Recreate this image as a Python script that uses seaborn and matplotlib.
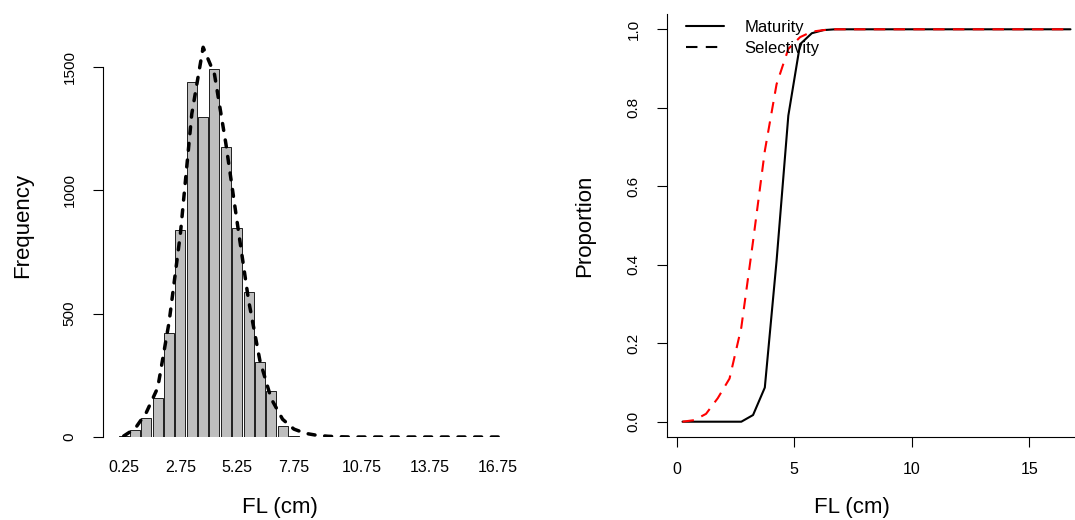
import matplotlib
matplotlib.use('Agg')
import matplotlib.pyplot as plt
import seaborn as sns
from matplotlib.lines import Line2D

# Bin centres of fork length (cm)
fl_mid = [0.25, 0.75, 1.25, 1.75, 2.25, 2.75, 3.25, 3.75, 4.25, 4.75, 5.25, 5.75,
          6.25, 6.75, 7.25, 7.75, 8.25, 8.75, 9.25, 9.75, 10.25, 10.75, 11.25, 11.75,
          12.25, 12.75, 13.25, 13.75, 14.25, 14.75, 15.25, 15.75, 16.25, 16.75]

# Length frequency (bars)
freq = [3, 27, 78, 159, 423, 840, 1439, 1298, 1492, 1176, 848, 589,
        303, 185, 46, 6, 1, 0, 0, 0, 0, 0, 0, 0,
        0, 0, 0, 0, 0, 0, 0, 0, 0, 0]

# Fitted frequency (dashed curve)
fitted = [4, 34, 100, 200, 466, 826, 1310, 1580, 1470, 1190, 870, 555,
          310, 155, 72, 32, 15, 7, 3, 1, 0, 0, 0, 0,
          0, 0, 0, 0, 0, 0, 0, 0, 0, 0]

# Maturity and selectivity at length
maturity = [0.0, 0.0, 0.0, 0.0, 0.0, 0.0, 0.017, 0.087, 0.41, 0.78, 0.962, 0.99,
            0.998, 1.0, 1.0, 1.0, 1.0, 1.0, 1.0, 1.0, 1.0, 1.0, 1.0, 1.0,
            1.0, 1.0, 1.0, 1.0, 1.0, 1.0, 1.0, 1.0, 1.0, 1.0]
selectivity = [0.0, 0.004, 0.02, 0.06, 0.11, 0.24, 0.46, 0.69, 0.86, 0.95, 0.98, 0.994,
               0.998, 1.0, 1.0, 1.0, 1.0, 1.0, 1.0, 1.0, 1.0, 1.0, 1.0, 1.0,
               1.0, 1.0, 1.0, 1.0, 1.0, 1.0, 1.0, 1.0, 1.0, 1.0]

hist_xlabels = ['0.25', '2.75', '5.25', '7.75', '10.75', '13.75', '16.75']
hist_yticks = [0, 500, 1000, 1500]
prop_xticks = [0, 5, 10, 15]
prop_yticks = [0.0, 0.2, 0.4, 0.6, 0.8, 1.0]

sns.set_style('ticks')
plt.rcParams['font.family'] = ['Liberation Sans', 'DejaVu Sans']
plt.rcParams.update({'text.color': 'black', 'axes.labelcolor': 'black',
                     'xtick.color': 'black', 'ytick.color': 'black',
                     'axes.edgecolor': 'black'})

W, H = 1075, 520
fig = plt.figure(figsize=(W / 100, H / 100), dpi=100)

# pixel helpers for axes placement
top_px, bot_px = 13.6, 437.4
ax1 = fig.add_axes([103 / W, 1 - bot_px / H, 412 / W, (bot_px - top_px) / H])
ax2 = fig.add_axes([667 / W, 1 - bot_px / H, 419 / W, (bot_px - top_px) / H])

# ---- Left: length frequency histogram
sns.barplot(x=fl_mid, y=freq, native_scale=True, width=0.88, color='#BEBEBE',
            saturation=1, edgecolor='black', linewidth=0.6, errorbar=None, ax=ax1)
sns.lineplot(x=fl_mid, y=fitted, ax=ax1, color='black', lw=2.5,
             linestyle=(0, (2.0, 2.8)), dash_capstyle='round')
ax1.set_xlim(-0.662, 17.49)
ax1.set_ylim(-1.6, 1716.5)
for s in ['top', 'right', 'bottom']:
    ax1.spines[s].set_visible(False)
ax1.spines['left'].set_bounds(0, 1500)
ax1.spines['left'].set_linewidth(0.8)
ax1.set_xticks([float(v) for v in hist_xlabels], labels=hist_xlabels)
ax1.set_yticks(hist_yticks, labels=[str(v) for v in hist_yticks], rotation=90, va='center')
ax1.tick_params(axis='x', length=0, pad=16.3, labelsize=11.5)
ax1.tick_params(axis='y', length=7.5, width=0.8, pad=11.5, labelsize=11)
ax1.set_xlabel('FL (cm)', fontsize=16)
ax1.set_ylabel('Frequency', fontsize=16)
ax1.xaxis.set_label_coords(0.4296, -0.1406)
ax1.yaxis.set_label_coords(-0.170, 0.5)

# ---- Right: maturity and selectivity
sns.lineplot(x=fl_mid, y=maturity, ax=ax2, color='black', lw=1.5)
sns.lineplot(x=fl_mid, y=selectivity, ax=ax2, color='red', lw=1.5,
             linestyle=(0, (5.5, 4)))
ax2.set_xlim(-0.41, 17.41)
ax2.set_ylim(-0.04, 1.04)
for s in ['top', 'right']:
    ax2.spines[s].set_visible(False)
for s in ['left', 'bottom']:
    ax2.spines[s].set_linewidth(0.8)
ax2.set_xticks(prop_xticks, labels=[str(v) for v in prop_xticks])
ax2.set_yticks(prop_yticks, labels=[f'{v:.1f}' for v in prop_yticks], rotation=90, va='center')
ax2.tick_params(axis='x', length=7, width=0.8, pad=11, labelsize=11.5)
ax2.tick_params(axis='y', length=7.5, width=0.8, pad=11.5, labelsize=11)
ax2.set_xlabel('FL (cm)', fontsize=16)
ax2.set_ylabel('Proportion', fontsize=16)
ax2.xaxis.set_label_coords(0.4415, -0.1406)
ax2.yaxis.set_label_coords(-0.172, 0.5)

handles = [Line2D([], [], color='black', lw=1.5),
           Line2D([], [], color='black', lw=1.5, linestyle=(0, (5.5, 4)))]
ax2.legend(handles, ['Maturity', 'Selectivity'], loc='upper left',
           bbox_to_anchor=(0.045, 0.985), frameon=False, fontsize=12,
           handlelength=2.3, handletextpad=1.2, labelspacing=0.35,
           borderaxespad=0, borderpad=0)

fig.savefig('out.png', dpi=100)
